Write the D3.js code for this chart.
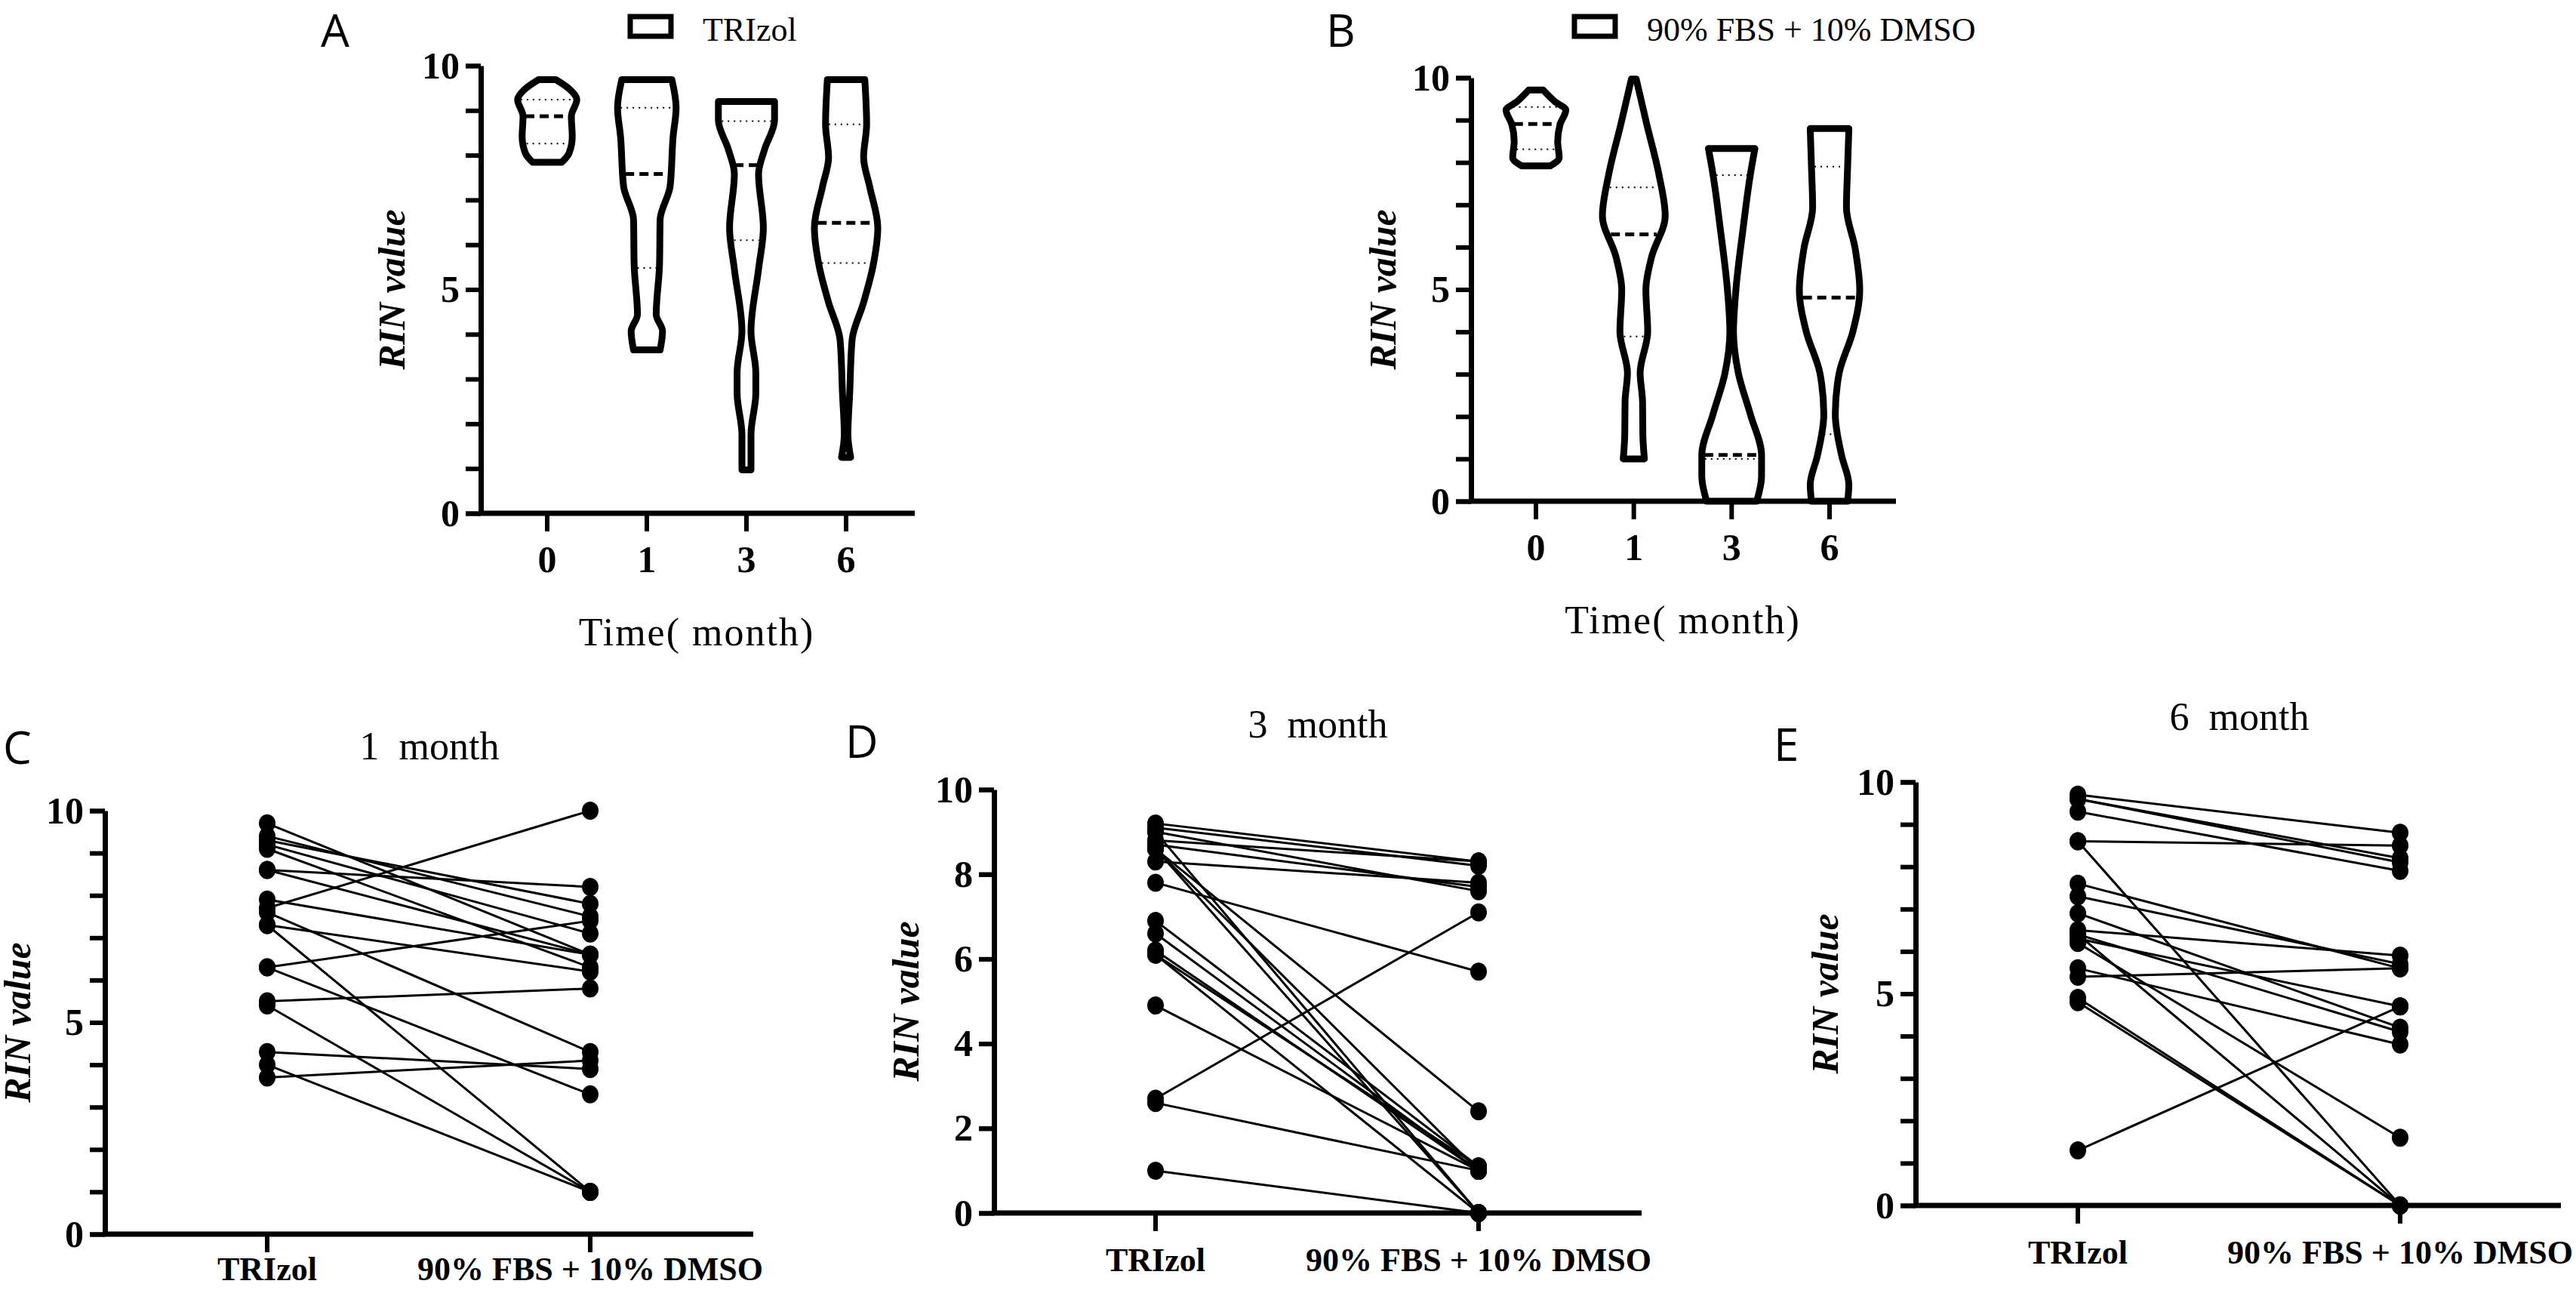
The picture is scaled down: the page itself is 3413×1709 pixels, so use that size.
<!DOCTYPE html>
<html>
<head>
<meta charset="utf-8">
<script src="https://cdn.jsdelivr.net/npm/d3@7"></script>
<style>
  body { margin: 0; background: #fff; }
  svg { display: block; }
  text { fill: #000; }
</style>
</head>
<body>
<svg id="chart" width="3413" height="1709"></svg>
<script>
// ---- data ----
var months = ["0", "1", "3", "6"];
var pairGroups = ["TRIzol", "90% FBS + 10% DMSO"];

// violin outlines: [RIN value, relative density]
var violinTrizol = [
  [[7.84,0.48],[8.04,0.72],[8.41,0.83],[8.87,0.8],[9.24,0.98],[9.47,0.75],[9.69,0.28]],
  [[3.65,0.44],[4.07,0.52],[4.44,0.31],[5.55,0.42],[6.56,0.44],[7.3,0.77],[8.41,0.87],[9.06,0.97],[9.69,0.83]],
  [[0.97,0.15],[1.76,0.15],[2.68,0.31],[3.14,0.31],[4.07,0.15],[5.45,0.4],[6.38,0.56],[7.58,0.4],[8.13,0.6],[8.78,0.93],[9.2,0.93]],
  [[1.25,0.15],[1.76,0.06],[2.68,0.12],[3.88,0.2],[4.71,0.58],[5.55,0.9],[6.38,1.05],[7.3,0.78],[7.95,0.58],[8.69,0.68],[9.69,0.62]]
];
var violinDmso = [
  [[7.92,0.48],[8.11,0.77],[8.5,0.72],[8.9,0.8],[9.24,0.99],[9.43,0.64],[9.71,0.24]],
  [[1.0,0.35],[1.56,0.3],[2.35,0.29],[3.03,0.21],[4.0,0.46],[4.99,0.4],[5.77,0.59],[6.74,1.04],[7.72,0.83],[8.9,0.43],[9.97,0.08]],
  [[0.0,0.83],[0.59,0.99],[1.08,0.99],[2.05,0.62],[3.03,0.22],[4.0,0.06],[4.99,0.14],[6.45,0.38],[7.72,0.62],[8.33,0.77]],
  [[0.0,0.6],[0.39,0.64],[1.08,0.4],[2.05,0.19],[3.03,0.32],[4.0,0.77],[4.99,1.0],[5.96,0.85],[6.94,0.56],[7.92,0.6],[8.8,0.64]]
];
var medianTrizol = [8.87, 7.58, 7.78, 6.49];
var quartTrizol = [[8.26, 9.24], [5.48, 9.06], [6.1, 8.76], [5.59, 8.69]];
var medianDmso = [8.91, 6.3, 1.09, 4.81];
var quartDmso = [[8.31, 9.31], [3.89, 7.41], [1.0, 7.7], [1.58, 7.9]];

// paired RIN values: [TRIzol, 90% FBS + 10% DMSO]
var pairs1 = [[9.7,6.6],[9.4,7.5],[9.3,7.8],[9.2,7.1],[9.1,6.3],[8.6,8.2],[8.6,6.6],[7.9,6.6],[7.7,10.0],
  [7.6,4.3],[7.3,6.2],[7.3,1.0],[6.3,7.4],[6.3,3.3],[5.5,5.8],[5.4,1.0],[4.3,3.9],[4.0,1.0],[3.7,4.1]];
var pairs3 = [[9.2,8.3],[9.1,8.2],[9.0,7.6],[9.0,0.0],[8.8,8.3],[8.7,7.7],[8.6,0.0],[8.6,1.0],[8.6,2.4],
  [8.3,7.8],[7.8,5.7],[6.9,1.1],[6.6,1.0],[6.2,1.0],[6.1,0.0],[6.1,1.1],[4.9,1.0],[2.7,7.1],[2.6,1.0],[1.0,0.0]];
var pairs6 = [[9.7,8.8],[9.6,8.1],[9.6,8.2],[9.3,7.9],[8.6,8.5],[8.6,0.0],[7.6,5.6],[7.3,5.7],[6.9,4.2],
  [6.5,5.9],[6.4,4.1],[6.4,0.0],[6.2,1.6],[5.6,3.8],[5.4,5.6],[4.9,0.0],[4.8,0.0],[6.3,4.7],[1.3,4.7]];

var ticks10 = [0, 5, 10];
var ticksMinor = d3.range(0, 11, 1);
var ticksD = [0, 2, 4, 6, 8, 10];

// ---- drawing ----
var svg = d3.select("#chart");
var SERIF = "'Liberation Serif', 'Times New Roman', serif";
var SANS = "'Open Sans', 'Noto Sans', sans-serif";

function yAxisDraw(g, y, x0, major, minor) {
  g.append("g").attr("transform", "translate(" + x0 + ",0)")
    .call(d3.axisLeft(y).tickValues(minor).tickSize(20).tickFormat(""))
    .call(function (a) { a.select(".domain").remove(); a.selectAll("line").attr("stroke-width", 6); });
  var ax = g.append("g").attr("transform", "translate(" + x0 + ",0)")
    .call(d3.axisLeft(y).tickValues(major).tickSize(20).tickPadding(8).tickSizeOuter(0));
  ax.select(".domain").attr("stroke-width", 7);
  ax.selectAll("line").attr("stroke-width", 6);
  ax.selectAll("text").attr("font-family", SERIF).attr("font-weight", "bold").attr("font-size", 50);
}

function xAxisDraw(g, x, y0, x0, x1, labels, size, off) {
  g.append("line").attr("x1", x0 - 3).attr("x2", x1).attr("y1", y0).attr("y2", y0)
    .attr("stroke", "#000").attr("stroke-width", 7);
  labels.forEach(function (c) {
    g.append("line").attr("x1", x(c)).attr("x2", x(c)).attr("y1", y0).attr("y2", y0 + 24)
      .attr("stroke", "#000").attr("stroke-width", 6);
    g.append("text").attr("x", x(c)).attr("y", y0 + off).attr("dy", "0.35em")
      .attr("text-anchor", "middle").attr("font-family", SERIF).attr("font-weight", "bold")
      .attr("font-size", size).text(c);
  });
}

function yTitle(g, cx, cy) {
  g.append("text").attr("transform", "translate(" + cx + "," + cy + ") rotate(-90)")
    .attr("text-anchor", "middle").attr("dy", "0.35em").attr("font-family", SERIF)
    .attr("font-weight", "bold").attr("font-style", "italic").attr("font-size", 50)
    .text("RIN value");
}

function letter(g, x, y, s) {
  g.append("text").attr("x", x).attr("y", y).attr("font-family", SANS)
    .attr("font-size", 60).text(s);
}

function violinPanel(o) {
  var g = svg.append("g");
  var y = d3.scaleLinear().domain([0, 10]).range([o.y0, o.y10]);
  var x = d3.scalePoint().domain(months).range([o.c0, o.c1]);
  var w = d3.scaleLinear().domain([0, 1]).range([0, 40]);
  var area = d3.area().curve(d3.curveMonotoneY)
    .y(function (d) { return y(d[0]); });

  function halfAt(pts, v) {
    for (var i = 1; i < pts.length; i++) {
      if (v <= pts[i][0]) {
        var t = (v - pts[i - 1][0]) / (pts[i][0] - pts[i - 1][0]);
        return w(pts[i - 1][1] + t * (pts[i][1] - pts[i - 1][1]));
      }
    }
    return w(pts[pts.length - 1][1]);
  }

  o.violins.forEach(function (pts, i) {
    var cx = x(months[i]);
    area.x0(function (d) { return cx - w(d[1]); }).x1(function (d) { return cx + w(d[1]); });
    g.append("path").attr("d", area(pts)).attr("fill", "none").attr("stroke", "#000")
      .attr("stroke-width", 9).attr("stroke-linejoin", "round");
    o.quart[i].forEach(function (q) {
      var h = halfAt(pts, q) - 4;
      g.append("line").attr("x1", cx - h).attr("x2", cx + h).attr("y1", y(q)).attr("y2", y(q))
        .attr("stroke", "#000").attr("stroke-width", 2).attr("stroke-dasharray", "2,6");
    });
    var hm = halfAt(pts, o.median[i]) - 3;
    g.append("line").attr("x1", cx - hm).attr("x2", cx + hm)
      .attr("y1", y(o.median[i])).attr("y2", y(o.median[i]))
      .attr("stroke", "#000").attr("stroke-width", 5).attr("stroke-dasharray", "12,7");
  });

  yAxisDraw(g, y, o.ax, ticks10, ticksMinor);
  xAxisDraw(g, x, o.y0, o.ax, o.axEnd, months, 50, 60);
  yTitle(g, o.titleX, (o.y0 + o.y10) / 2);
  g.append("text").attr("x", (o.c0 + o.c1) / 2).attr("y", o.y0 + 175).attr("text-anchor", "middle")
    .attr("font-family", SERIF).attr("font-size", 52).attr("letter-spacing", 2).text("Time( month)");
  g.append("rect").attr("x", o.legX).attr("y", 22).attr("width", 54).attr("height", 26)
    .attr("fill", "none").attr("stroke", "#000").attr("stroke-width", 7);
  g.append("text").attr("x", o.legX + 96).attr("y", 54).attr("font-family", SERIF)
    .attr("font-size", 44).text(o.legend);
  letter(g, o.letterX, 62, o.letter);
}

function pairPanel(o) {
  var g = svg.append("g");
  var y = d3.scaleLinear().domain([0, 10]).range([o.y0, o.y10]);
  var x = d3.scalePoint().domain(pairGroups).range([o.c0, o.c1]);
  o.pairs.forEach(function (p) {
    g.append("line").attr("x1", x(pairGroups[0])).attr("x2", x(pairGroups[1]))
      .attr("y1", y(p[0])).attr("y2", y(p[1])).attr("stroke", "#000").attr("stroke-width", 3);
  });
  o.pairs.forEach(function (p) {
    p.forEach(function (v, k) {
      g.append("ellipse").attr("cx", x(pairGroups[k])).attr("cy", y(v)).attr("rx", 11).attr("ry", 12)
        .attr("fill", "#000");
    });
  });
  yAxisDraw(g, y, o.ax, o.major, o.minor);
  xAxisDraw(g, x, o.y0, o.ax, o.axEnd, pairGroups, 44, o.labOff);
  yTitle(g, o.titleX, (o.y0 + o.y10) / 2);
  g.append("text").attr("x", o.titleCx).attr("y", o.titleY).attr("dy", "0.35em")
    .attr("text-anchor", "middle").attr("font-family", SERIF).attr("font-size", 52)
    .attr("xml:space", "preserve").text(o.title);
  letter(g, o.letterX, o.letterY, o.letter);
}

violinPanel({ violins: violinTrizol, median: medianTrizol, quart: quartTrizol,
  ax: 637, axEnd: 1212, y0: 680, y10: 87, c0: 725, c1: 1121, titleX: 518,
  legX: 835, legend: "TRIzol", letter: "A", letterX: 425 });
violinPanel({ violins: violinDmso, median: medianDmso, quart: quartDmso,
  ax: 1949, axEnd: 2512, y0: 664, y10: 103, c0: 2035, c1: 2424, titleX: 1831,
  legX: 2086, legend: "90% FBS + 10% DMSO", letter: "B", letterX: 1757 });

pairPanel({ pairs: pairs1, ax: 139, axEnd: 998, y0: 1635, y10: 1074, c0: 354, c1: 782,
  major: ticks10, minor: ticksMinor, titleX: 22, title: "1  month", titleCx: 569, titleY: 988,
  letter: "C", letterX: 4, letterY: 1012, labOff: 46 });
pairPanel({ pairs: pairs3, ax: 1317, axEnd: 2175, y0: 1607, y10: 1046, c0: 1531, c1: 1959,
  major: ticksD, minor: ticksD, titleX: 1199, title: "3  month", titleCx: 1746, titleY: 959,
  letter: "D", letterX: 1120, letterY: 1004, labOff: 62 });
pairPanel({ pairs: pairs6, ax: 2538, axEnd: 3393, y0: 1597, y10: 1036, c0: 2753, c1: 3180,
  major: ticks10, minor: ticksMinor, titleX: 2417, title: "6  month", titleCx: 2967, titleY: 949,
  letter: "E", letterX: 2350, letterY: 1008, labOff: 62 });
</script>
</body>
</html>
